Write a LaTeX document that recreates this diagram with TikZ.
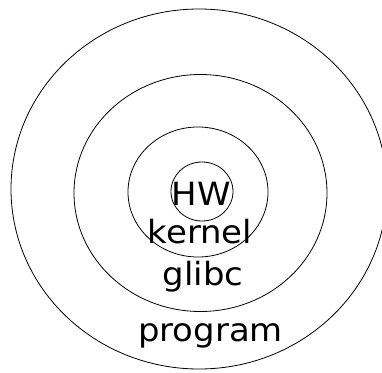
\documentclass[tikz,border=0pt]{standalone}
\usepackage{fontspec}
\setmainfont{DejaVu Sans}
\begin{document}
\begin{tikzpicture}[x=1pt,y=-1pt,
  ring/.style={draw=black,line width=0.8pt},
  lbl/.style={anchor=base,inner sep=0pt,font=\fontsize{32}{38}\selectfont,xscale=1.06,transform shape}]
\useasboundingbox (0,0) rectangle (382,372);
\clip (0,0) rectangle (382,372);
\draw[ring] (199,189) ellipse [x radius=188, y radius=180];
\draw[ring] (200.5,193) ellipse [x radius=126.5, y radius=118.5];
\draw[ring] (198,192) ellipse [x radius=70, y radius=65];
\draw[ring] (202,191.5) ellipse [x radius=31, y radius=29.5];
\node[lbl] (hw) at (201.5,205) {HW};
\node[lbl] (kernel) at (200,243) {kernel};
\node[lbl] (glibc) at (203,285) {glibc};
\node[lbl] (program) at (210.5,341) {program};
\end{tikzpicture}
\end{document}
